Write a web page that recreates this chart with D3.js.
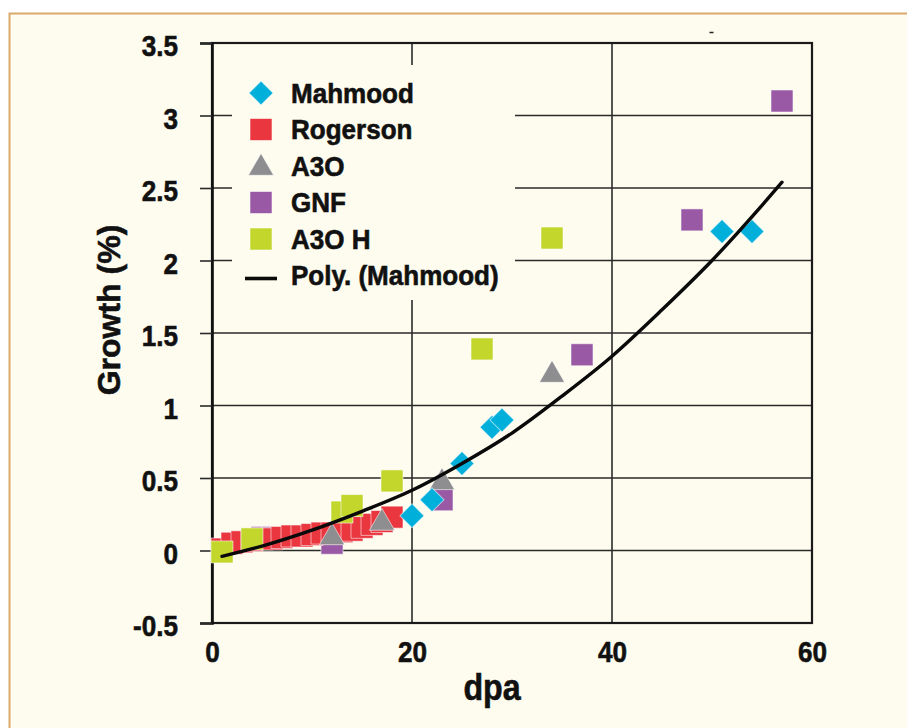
<!DOCTYPE html>
<html>
<head>
<meta charset="utf-8">
<script src="https://cdn.jsdelivr.net/npm/d3@7/dist/d3.min.js"></script>
<style>
  html, body { margin: 0; padding: 0; background: #ffffff; }
  svg { display: block; }
  text { font-family: "Liberation Sans", Arial, Helvetica, sans-serif; font-weight: bold; fill: #111; stroke: #111; stroke-width: 0.6px; }
  .ytick text { transform-box: fill-box; transform-origin: right center; transform: scaleX(0.87); }
  .xtick text { transform-box: fill-box; transform-origin: center center; transform: scaleX(0.87); }
  .legend text { transform-box: fill-box; transform-origin: left center; transform: scaleX(0.93); }
  .xlabel { transform-box: fill-box; transform-origin: center center; transform: scaleX(0.87); }
</style>
</head>
<body>
<script>
// Axis ticks
const dpaTicks = [0, 20, 40, 60];
const growthTicks = [-0.5, 0, 0.5, 1, 1.5, 2, 2.5, 3, 3.5];
const growthTickLabels = ["-0.5", "0", "0.5", "1", "1.5", "2", "2.5", "3", "3.5"];

// Measured swelling data (dpa, growth %)
const mahmoodDpa = [20, 22, 25, 28, 29, 51, 54];
const mahmoodGrowth = [0.24, 0.35, 0.60, 0.85, 0.90, 2.20, 2.20];

const rogersonDpa = [1, 2, 3, 4, 5, 6, 7, 8, 9, 10, 11, 12, 13, 14, 15, 16, 17, 18];
const rogersonGrowth = [0.01, 0.05, 0.06, 0.07, 0.08, 0.08, 0.09, 0.10, 0.10, 0.11, 0.12, 0.12, 0.13, 0.14, 0.16, 0.18, 0.20, 0.23];

const a3oDpa = [12, 17, 23, 34];
const a3oGrowth = [0.09, 0.19, 0.47, 1.21];

const gnfDpa = [5, 12, 23, 37, 48, 57];
const gnfGrowth = [0.09, 0.05, 0.35, 1.35, 2.28, 3.10];

const a3oHDpa = [1, 4, 13, 14, 18, 27, 34];
const a3oHGrowth = [-0.01, 0.08, 0.265, 0.31, 0.48, 1.39, 2.155];

// Polynomial trend of the Mahmood series
const trendDpa = [1, 5, 10, 15, 20, 25, 30, 35, 40, 45, 50, 55, 57];
const trendGrowth = [-0.04, 0.03, 0.14, 0.27, 0.415, 0.60, 0.81, 1.065, 1.34, 1.66, 2.0, 2.38, 2.54];

const seriesNames = ["Mahmood", "Rogerson", "A3O", "GNF", "A3O H"];
const seriesColors = ["#00afda", "#e9363f", "#8e8e91", "#9a59a4", "#c2d62c"];
const trendName = "Poly. (Mahmood)";

const W = 907, H = 728;
const BG = "#fefcee";

const svg = d3.select("body").append("svg")
  .attr("width", W).attr("height", H);

// Page frame
svg.append("rect").attr("x", 0).attr("y", 0).attr("width", W).attr("height", H).attr("fill", "#ffffff");
svg.append("rect")
  .attr("x", 9.5).attr("y", 13.5).attr("width", W + 20).attr("height", H + 20)
  .attr("fill", BG).attr("stroke", "#d9aa6c").attr("stroke-width", 2);

const x = d3.scaleLinear().domain([0, 60]).range([212, 812]);
const y = d3.scaleLinear().domain([-0.5, 3.5]).range([623, 43]);

// Grid
const grid = svg.append("g").attr("stroke", "#2a2a2a").attr("stroke-width", 1.6);
grid.selectAll("line.h").data(growthTicks).join("line")
  .attr("x1", x(0)).attr("x2", x(60))
  .attr("y1", d => y(d)).attr("y2", d => y(d));
grid.selectAll("line.v").data(dpaTicks.filter(d => d > 0 && d < 60)).join("line")
  .attr("y1", y(3.5)).attr("y2", y(-0.5))
  .attr("x1", d => x(d)).attr("x2", d => x(d));

// Frame (top, right, bottom)
svg.append("rect")
  .attr("x", x(0)).attr("y", y(3.5))
  .attr("width", x(60) - x(0)).attr("height", y(-0.5) - y(3.5))
  .attr("fill", "none").attr("stroke", "#1a1a1a").attr("stroke-width", 2.2);

// Y axis with outward ticks
const yAxis = svg.append("g").attr("class", "ytick")
  .attr("transform", `translate(${x(0)},0)`)
  .call(d3.axisLeft(y).tickValues(growthTicks)
    .tickFormat((d, i) => growthTickLabels[i]).tickSize(12).tickPadding(22));
yAxis.select(".domain").attr("stroke", "#111").attr("stroke-width", 2.6);
yAxis.selectAll(".tick line").attr("stroke", "#2a2a2a").attr("stroke-width", 1.6);
yAxis.selectAll(".tick text").attr("font-size", 30).attr("dy", "0.42em")
  .attr("fill", "#111").style("font-family", "'Liberation Sans', Arial, sans-serif").style("font-weight", "bold");

// X axis labels
const xAxis = svg.append("g").attr("class", "xtick")
  .attr("transform", `translate(0,${y(-0.5)})`)
  .call(d3.axisBottom(x).tickValues(dpaTicks).tickSize(0).tickPadding(18));
xAxis.select(".domain").remove();
xAxis.selectAll(".tick text").attr("font-size", 30)
  .attr("fill", "#111").style("font-family", "'Liberation Sans', Arial, sans-serif").style("font-weight", "bold");

// Axis titles
svg.append("text").attr("class", "xlabel")
  .attr("x", 492).attr("y", 700).attr("text-anchor", "middle")
  .attr("font-size", 37).text("dpa");
svg.append("text")
  .attr("transform", "translate(120,310) rotate(-90)")
  .attr("text-anchor", "middle").attr("font-size", 32).text("Growth (%)");

// small stray mark above the plot
svg.append("line").attr("x1", 709.5).attr("x2", 713.5).attr("y1", 32.5).attr("y2", 32.5)
  .attr("stroke", "#222").attr("stroke-width", 1.5);

// Marker shapes
const shapes = {
  diamond: d3.symbol().type(d3.symbolSquare).size(290),
  square: d3.symbol().type(d3.symbolSquare).size(484),
  triangle: d3.symbol().type(d3.symbolTriangle).size(275)
};
function drawSeries(dpa, growth, shape, color, rotate) {
  svg.append("g").selectAll("path").data(dpa.map((d, i) => [d, growth[i]])).join("path")
    .attr("d", shapes[shape]())
    .attr("transform", d => `translate(${x(d[0])},${y(d[1])})` + (rotate ? " rotate(45)" : ""))
    .attr("fill", color)
    .attr("stroke", "#ffffff").attr("stroke-opacity", 0.55).attr("stroke-width", 1);
}
drawSeries(gnfDpa, gnfGrowth, "square", seriesColors[3], false);
drawSeries(rogersonDpa, rogersonGrowth, "square", seriesColors[1], false);
drawSeries(a3oDpa, a3oGrowth, "triangle", seriesColors[2], false);
drawSeries(mahmoodDpa, mahmoodGrowth, "diamond", seriesColors[0], true);
drawSeries(a3oHDpa, a3oHGrowth, "square", seriesColors[4], false);

// Trend line
const trendLine = d3.line()
  .x(d => x(d[0]))
  .y(d => y(d[1]))
  .curve(d3.curveMonotoneX);
svg.append("path")
  .datum(trendDpa.map((d, i) => [d, trendGrowth[i]]))
  .attr("d", trendLine)
  .attr("fill", "none").attr("stroke", "#0a0a0a").attr("stroke-width", 3.4)
  .attr("stroke-linecap", "round");

// Legend
const legend = svg.append("g").attr("class", "legend");
legend.append("rect").attr("x", 232).attr("y", 65).attr("width", 283).attr("height", 235).attr("fill", BG);
const rowY = d3.range(6).map(i => 93 + i * 36.5);
const legendShapes = ["diamond", "square", "triangle", "square", "square"];
seriesNames.forEach((name, i) => {
  const sh = legendShapes[i];
  legend.append("path")
    .attr("d", shapes[sh]())
    .attr("transform", `translate(261,${rowY[i] + (sh === "triangle" ? 2 : 0)})` + (sh === "diamond" ? " rotate(45)" : ""))
    .attr("fill", seriesColors[i])
    .attr("stroke", "#ffffff").attr("stroke-opacity", 0.55).attr("stroke-width", 1);
  legend.append("text").attr("x", 291).attr("y", rowY[i] + 10).attr("font-size", 28).text(name);
});
legend.append("line").attr("x1", 245).attr("x2", 277).attr("y1", rowY[5] + 3).attr("y2", rowY[5] + 3)
  .attr("stroke", "#0a0a0a").attr("stroke-width", 3.6);
legend.append("text").attr("x", 291).attr("y", rowY[5] + 10).attr("font-size", 28).text(trendName);
</script>
</body>
</html>
